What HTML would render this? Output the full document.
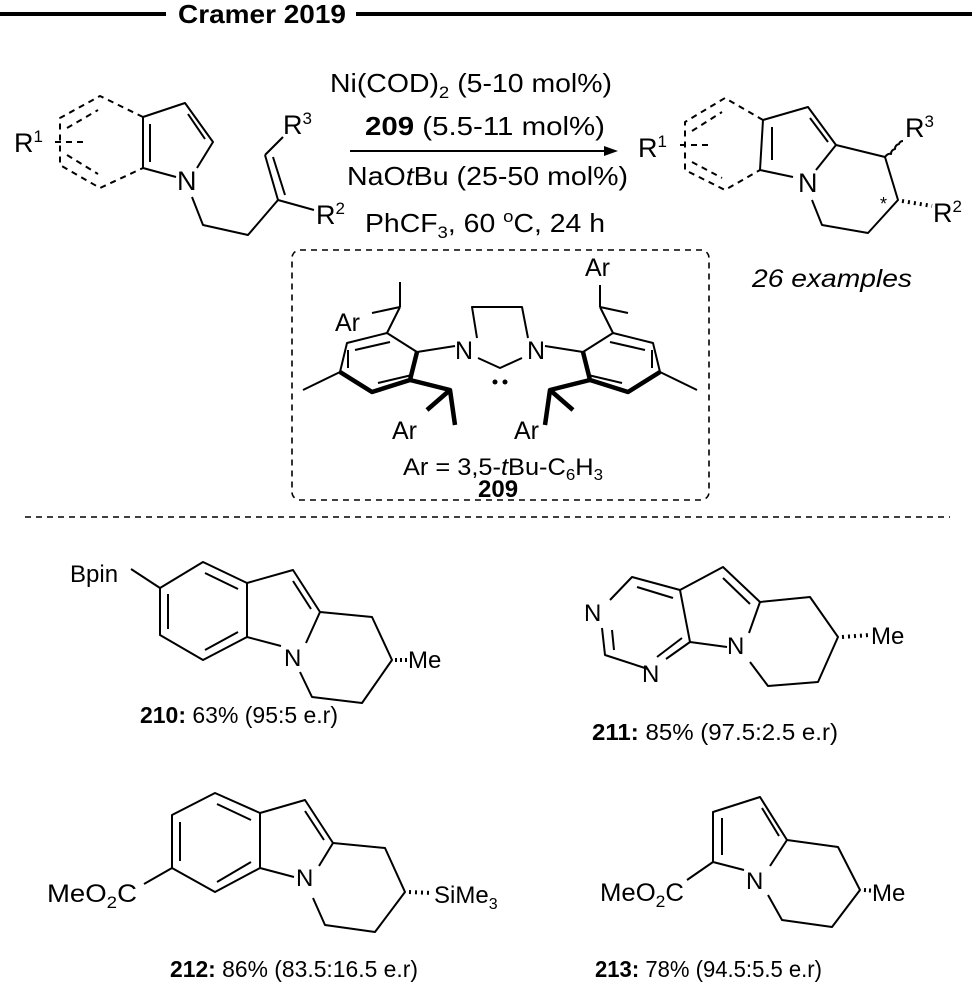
<!DOCTYPE html>
<html><head><meta charset="utf-8"><style>
html,body{margin:0;padding:0;background:#fff;}
svg{display:block;font-family:"Liberation Sans",Arial,sans-serif;}
</style></head><body>
<svg width="976" height="999" viewBox="0 0 976 999" xmlns="http://www.w3.org/2000/svg">
<g stroke="#000" stroke-width="4">
<line x1="0" y1="14" x2="166" y2="14"/>
<line x1="356" y1="14" x2="972" y2="14"/>
</g>
<text x="178" y="23" font-size="26" font-weight="bold" textLength="168" lengthAdjust="spacingAndGlyphs">Cramer 2019</text>

<g fill="none" stroke="#000" stroke-width="2" stroke-linejoin="round">
<g stroke-dasharray="6,5">
<polyline points="143,117 100,96 60,118 60,165 100,188 143,168"/>
<line x1="67" y1="128" x2="98" y2="110"/>
<line x1="67" y1="155" x2="98" y2="174"/>
<line x1="55" y1="142" x2="85" y2="142"/>
</g>
<polyline points="143,168 143,117 185,103 213,142 197,168"/>
<line x1="150" y1="124" x2="150" y2="162"/>
<line x1="188" y1="114" x2="205" y2="139"/>
<line x1="143" y1="168" x2="176" y2="177"/>
<polyline points="192,197 203,225 248,235 278,200 314,210"/>
<line x1="278" y1="200" x2="265" y2="155"/>
<line x1="285" y1="195" x2="273" y2="157"/>
<line x1="265" y1="155" x2="283" y2="137"/>
<line x1="350" y1="151" x2="608" y2="151"/>
<g stroke-dasharray="6,5">
<polyline points="763,120 725,98 685,122 685,170 725,190 760,170"/>
<line x1="692" y1="131" x2="722" y2="112"/>
<line x1="692" y1="162" x2="722" y2="178"/>
<line x1="680" y1="145" x2="712" y2="145"/>
</g>
<polyline points="760,170 763,120 808,107 836,145 816,170"/>
<line x1="772" y1="127" x2="772" y2="160"/>
<line x1="810" y1="118" x2="828" y2="142"/>
<line x1="760" y1="170" x2="793" y2="177"/>
<polyline points="836,145 885,157 898,200 868,233 822,225 812,200"/>
<path d="M885,157 q3,-4 6,-3 q0,-4 4,-5 q0,-4 4,-5 q1,-3 4,-3"/>
</g>
<polygon points="618,151 604,146 604,156" fill="#000"/>
<g stroke="#000" stroke-width="4" stroke-dasharray="2,4" fill="none">
<line x1="902" y1="201" x2="932" y2="206"/>
</g>

<g font-size="27" fill="#000">
<text x="14" y="152">R<tspan font-size="17" dy="-10">1</tspan></text>
<text x="283" y="134">R<tspan font-size="17" dy="-10">3</tspan></text>
<text x="316" y="224">R<tspan font-size="17" dy="-10">2</tspan></text>
<text x="177" y="190">N</text>
<text x="638" y="157">R<tspan font-size="17" dy="-10">1</tspan></text>
<text x="905" y="137">R<tspan font-size="17" dy="-10">3</tspan></text>
<text x="933" y="222">R<tspan font-size="17" dy="-10">2</tspan></text>
<text x="798" y="192">N</text>
<text x="880" y="210" font-size="18">*</text>
<text x="752" y="287" font-size="25" font-style="italic" textLength="160" lengthAdjust="spacingAndGlyphs">26 examples</text>
<text x="330" y="92" font-size="26" textLength="282" lengthAdjust="spacingAndGlyphs">Ni(COD)<tspan font-size="17" dy="6">2</tspan><tspan dy="-6"> (5-10 mol%)</tspan></text>
<text x="365" y="135" font-size="26" textLength="240" lengthAdjust="spacingAndGlyphs"><tspan font-weight="bold">209</tspan> (5.5-11 mol%)</text>
<text x="347" y="185" font-size="26" textLength="281" lengthAdjust="spacingAndGlyphs">NaO<tspan font-style="italic">t</tspan>Bu (25-50 mol%)</text>
<text x="365" y="232" font-size="26" textLength="240" lengthAdjust="spacingAndGlyphs">PhCF<tspan font-size="17" dy="6">3</tspan><tspan dy="-6">, 60 </tspan><tspan font-size="17" dy="-10">o</tspan><tspan dy="10">C, 24 h</tspan></text>
</g>

<rect x="292" y="250" width="417" height="250" rx="8" fill="none" stroke="#000" stroke-width="1.6" stroke-dasharray="6,5"/>
<line x1="25" y1="517" x2="950" y2="517" stroke="#000" stroke-width="1.6" stroke-dasharray="6,5"/>

<g fill="none" stroke="#000" stroke-width="2" stroke-linejoin="round">
<polyline points="477,338 472,307 522,307 528,338"/>
<polyline points="478,358 500,368 522,358"/>
<line x1="417" y1="352" x2="455" y2="346"/>
<line x1="583" y1="352" x2="545" y2="346"/>
<polyline points="410,380 417,352 387,333 347,343 340,372"/>
<line x1="390" y1="342" x2="355" y2="350"/>
<line x1="348" y1="350" x2="348" y2="368"/>
<line x1="340" y1="372" x2="303" y2="390"/>
<line x1="387" y1="333" x2="400" y2="307"/>
<line x1="400" y1="307" x2="400" y2="282"/>
<line x1="400" y1="307" x2="372" y2="313"/>
<polyline points="590,380 583,352 613,333 653,343 660,372"/>
<line x1="610" y1="342" x2="645" y2="350"/>
<line x1="652" y1="350" x2="652" y2="368"/>
<line x1="660" y1="372" x2="697" y2="390"/>
<line x1="613" y1="333" x2="600" y2="307"/>
<line x1="600" y1="307" x2="600" y2="285"/>
<line x1="600" y1="307" x2="628" y2="313"/>
<line x1="412" y1="375" x2="378" y2="383"/>
<line x1="588" y1="375" x2="622" y2="383"/>
</g>
<g fill="none" stroke="#000" stroke-width="4.5" stroke-linejoin="round">
<polyline points="340,372 372,392 410,380 417,352"/>
<polyline points="410,380 450,390 455,425"/>
<line x1="450" y1="390" x2="427" y2="410"/>
<polyline points="660,372 628,392 590,380 583,352"/>
<polyline points="590,380 550,390 545,425"/>
<line x1="550" y1="390" x2="573" y2="410"/>
</g>
<circle cx="495" cy="382" r="2.5"/><circle cx="505" cy="382" r="2.5"/>
<g font-size="25" fill="#000">
<text x="455" y="359">N</text>
<text x="527" y="359">N</text>
<text x="335" y="331">Ar</text>
<text x="585" y="276">Ar</text>
<text x="392" y="439">Ar</text>
<text x="514" y="439">Ar</text>
<text x="403" y="475" font-size="24" textLength="200" lengthAdjust="spacingAndGlyphs">Ar = 3,5-<tspan font-style="italic">t</tspan>Bu-C<tspan font-size="16" dy="5">6</tspan><tspan dy="-5">H</tspan><tspan font-size="16" dy="5">3</tspan></text>
<text x="478" y="497" font-weight="bold" font-size="24">209</text>
</g>

<!-- 210 -->
<g fill="none" stroke="#000" stroke-width="2" stroke-linejoin="round">
<polygon points="203,562 247,583 247,637 203,660 160,635 160,588"/>
<line x1="205" y1="573" x2="238" y2="589"/>
<line x1="168" y1="594" x2="168" y2="629"/>
<line x1="205" y1="650" x2="238" y2="632"/>
<line x1="160" y1="588" x2="131" y2="569"/>
<polyline points="247,583 293,570 320,612 306,643"/>
<line x1="293" y1="581" x2="311" y2="609"/>
<line x1="247" y1="637" x2="281" y2="646"/>
<polyline points="320,612 372,617 392,660 362,703 312,697 300,672"/>
</g>
<line x1="395" y1="660" x2="408" y2="660" stroke="#000" stroke-width="4" stroke-dasharray="2,3"/>
<g font-size="24" fill="#000">
<text x="70" y="582">Bpin</text>
<text x="284" y="666">N</text>
<text x="408" y="668">Me</text>
<text x="140" y="723" font-size="23" textLength="198" lengthAdjust="spacingAndGlyphs"><tspan font-weight="bold">210:</tspan> 63% (95:5 e.r)</text>
</g>

<!-- 211 -->
<g fill="none" stroke="#000" stroke-width="2" stroke-linejoin="round">
<polyline points="610,600 632,577 680,590 690,642 666,659"/>
<polyline points="648,669 605,655 602,628"/>
<line x1="637" y1="587" x2="673" y2="598"/>
<line x1="612" y1="630" x2="614" y2="650"/>
<line x1="657" y1="657" x2="682" y2="638"/>
<polyline points="680,590 723,567 760,602 749,633"/>
<line x1="723" y1="578" x2="750" y2="604"/>
<line x1="690" y1="642" x2="727" y2="647"/>
<polyline points="760,602 810,597 838,637 818,682 768,686 750,662"/>
</g>
<line x1="842" y1="637" x2="870" y2="635" stroke="#000" stroke-width="4" stroke-dasharray="2,4"/>
<g font-size="24" fill="#000">
<text x="584" y="621">N</text>
<text x="642" y="682">N</text>
<text x="727" y="654">N</text>
<text x="871" y="644">Me</text>
<text x="592" y="740" font-size="23" textLength="246" lengthAdjust="spacingAndGlyphs"><tspan font-weight="bold">211:</tspan> 85% (97.5:2.5 e.r)</text>
</g>

<!-- 212 -->
<g fill="none" stroke="#000" stroke-width="2" stroke-linejoin="round">
<polygon points="215,793 260,813 260,868 215,892 172,868 172,815"/>
<line x1="217" y1="804" x2="251" y2="820"/>
<line x1="180" y1="822" x2="180" y2="861"/>
<line x1="217" y1="882" x2="251" y2="862"/>
<line x1="172" y1="868" x2="144" y2="884"/>
<polyline points="260,813 305,800 333,843 319,866"/>
<line x1="305" y1="811" x2="324" y2="840"/>
<line x1="260" y1="868" x2="294" y2="877"/>
<polyline points="333,843 385,848 405,892 375,932 325,925 313,898"/>
</g>
<line x1="409" y1="892" x2="432" y2="893" stroke="#000" stroke-width="4" stroke-dasharray="2,4"/>
<g font-size="25" fill="#000">
<text x="47" y="902" textLength="90" lengthAdjust="spacingAndGlyphs">MeO<tspan font-size="17" dy="6">2</tspan><tspan dy="-6">C</tspan></text>
<text x="296" y="886" font-size="24">N</text>
<text x="434" y="903" font-size="24">SiMe<tspan font-size="16" dy="6">3</tspan></text>
<text x="170" y="977" font-size="23" textLength="248" lengthAdjust="spacingAndGlyphs"><tspan font-weight="bold">212:</tspan> 86% (83.5:16.5 e.r)</text>
</g>

<!-- 213 -->
<g fill="none" stroke="#000" stroke-width="2" stroke-linejoin="round">
<polyline points="744,870 713,862 713,812 760,797 787,840 770,866"/>
<line x1="722" y1="818" x2="722" y2="855"/>
<line x1="762" y1="808" x2="779" y2="836"/>
<line x1="713" y1="862" x2="687" y2="880"/>
<polyline points="787,840 838,847 860,890 832,927 782,920 768,895"/>
</g>
<line x1="864" y1="890" x2="876" y2="891" stroke="#000" stroke-width="4" stroke-dasharray="2,3"/>
<g font-size="24" fill="#000">
<text x="600" y="901" font-size="25" textLength="84" lengthAdjust="spacingAndGlyphs">MeO<tspan font-size="17" dy="6">2</tspan><tspan dy="-6">C</tspan></text>
<text x="746" y="889">N</text>
<text x="872" y="901">Me</text>
<text x="595" y="977" font-size="23" textLength="227" lengthAdjust="spacingAndGlyphs"><tspan font-weight="bold">213:</tspan> 78% (94.5:5.5 e.r)</text>
</g>
</svg>
</body></html>
